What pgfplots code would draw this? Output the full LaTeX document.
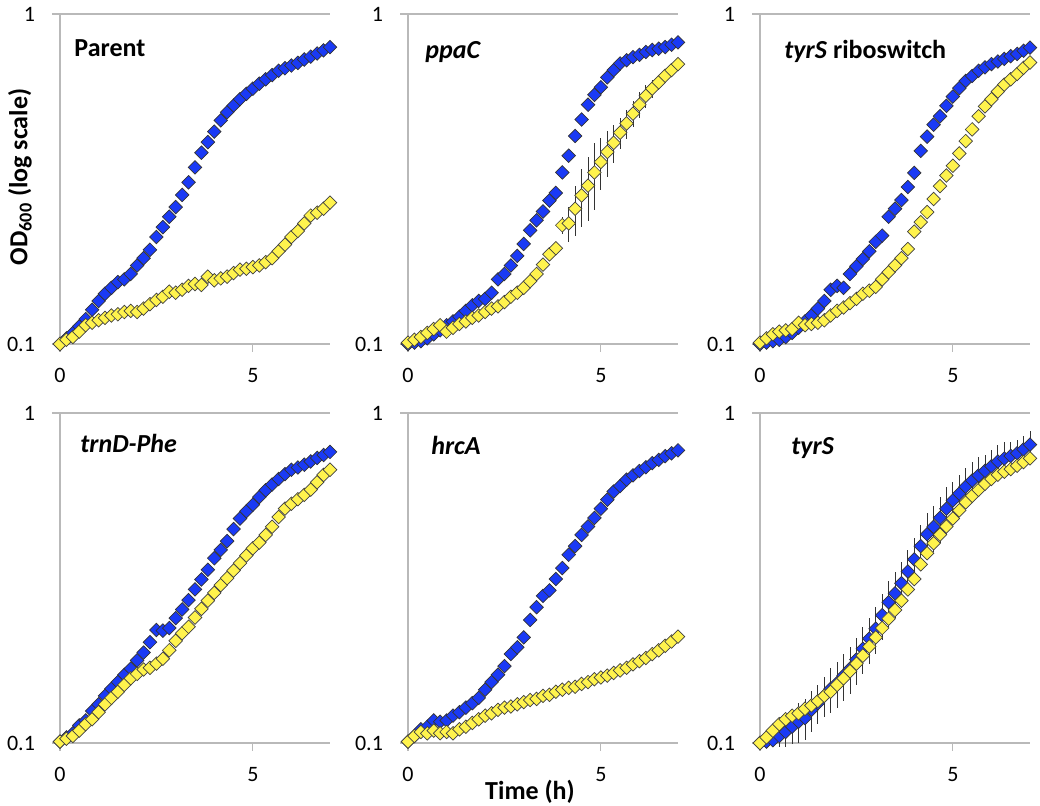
\documentclass[border=0pt]{standalone}
\usepackage{pgfplots}
\pgfplotsset{compat=1.18}
\usepackage{pgfplotstable}
\usepackage{fontspec}
\setmainfont{Carlito}
\definecolor{mblue}{RGB}{26,58,245}
\definecolor{myel}{RGB}{255,243,77}
\definecolor{axgray}{RGB}{185,185,185}

% t = time (h), b = blue series, y = yellow series, e = error
\pgfplotstableread{
t b y
0 0.100 0.100
0.167 0.104 0.103
0.333 0.108 0.105
0.5 0.113 0.109
0.667 0.119 0.114
0.833 0.127 0.116
1 0.135 0.118
1.167 0.142 0.120
1.333 0.148 0.122
1.5 0.154 0.123
1.667 0.157 0.125
1.833 0.163 0.126
2 0.173 0.125
2.167 0.182 0.128
2.333 0.193 0.132
2.5 0.211 0.136
2.667 0.226 0.139
2.833 0.243 0.144
3 0.260 0.143
3.167 0.283 0.146
3.333 0.309 0.150
3.5 0.343 0.152
3.667 0.380 0.151
3.833 0.409 0.160
4 0.440 0.156
4.167 0.476 0.158
4.333 0.504 0.160
4.5 0.528 0.164
4.667 0.552 0.168
4.833 0.573 0.169
5 0.594 0.171
5.167 0.615 0.173
5.333 0.634 0.177
5.5 0.653 0.182
5.667 0.673 0.191
5.833 0.685 0.200
6 0.698 0.211
6.167 0.711 0.220
6.333 0.728 0.232
6.5 0.743 0.245
6.667 0.759 0.250
6.833 0.776 0.257
7 0.794 0.268
}\tabA

\pgfplotstableread{
t b y e
0 0.100 0.101 0
0.167 0.101 0.103 0
0.333 0.102 0.105 0
0.5 0.104 0.108 0
0.667 0.107 0.111 0
0.833 0.110 0.114 0
1 0.114 0.109 0
1.167 0.117 0.112 0
1.333 0.121 0.115 0
1.5 0.126 0.117 0
1.667 0.131 0.120 0
1.833 0.135 0.122 0
2 0.137 0.125 0
2.167 0.143 0.128 0
2.333 0.157 0.130 0
2.5 0.163 0.134 0
2.667 0.173 0.139 0
2.833 0.185 0.143 0
3 0.201 0.148 0
3.167 0.221 0.155 0
3.333 0.237 0.163 0
3.5 0.252 0.174 0
3.667 0.272 0.187 0
3.833 0.287 0.195 0.006
4 0.331 0.229 0.014
4.167 0.372 0.232 0.028
4.333 0.427 0.257 0.044
4.5 0.479 0.282 0.056
4.667 0.531 0.302 0.066
4.833 0.569 0.331 0.076
5 0.600 0.356 0.064
5.167 0.643 0.382 0.061
5.333 0.676 0.407 0.053
5.5 0.708 0.437 0.048
5.667 0.724 0.466 0.047
5.833 0.740 0.499 0.045
6 0.752 0.531 0.048
6.167 0.767 0.565 0.045
6.333 0.778 0.594 0.036
6.5 0.785 0.621 0.031
6.667 0.794 0.650 0.026
6.833 0.807 0.676 0.027
7 0.820 0.705 0.021
}\tabB

\pgfplotstableread{
t b y
0 0.100 0.101
0.167 0.101 0.104
0.333 0.102 0.107
0.5 0.103 0.109
0.667 0.105 0.110
0.833 0.108 0.111
1 0.112 0.116
1.167 0.117 0.114
1.333 0.122 0.115
1.5 0.128 0.116
1.667 0.135 0.118
1.833 0.146 0.122
2 0.150 0.126
2.167 0.148 0.129
2.333 0.163 0.133
2.5 0.172 0.137
2.667 0.181 0.142
2.833 0.191 0.145
3 0.204 0.149
3.167 0.213 0.157
3.333 0.243 0.165
3.5 0.257 0.173
3.667 0.273 0.182
3.833 0.299 0.194
4 0.330 0.219
4.167 0.385 0.234
4.333 0.425 0.251
4.5 0.462 0.275
4.667 0.490 0.301
4.833 0.527 0.324
5 0.562 0.347
5.167 0.596 0.378
5.333 0.627 0.412
5.5 0.649 0.447
5.667 0.673 0.490
5.833 0.689 0.525
6 0.705 0.552
6.167 0.718 0.582
6.333 0.731 0.611
6.5 0.745 0.634
6.667 0.757 0.658
6.833 0.774 0.687
7 0.791 0.713
}\tabC

\pgfplotstableread{
t b y
0 0.101 0.101
0.167 0.104 0.103
0.333 0.107 0.105
0.5 0.113 0.109
0.667 0.117 0.114
0.833 0.125 0.118
1 0.131 0.124
1.167 0.139 0.131
1.333 0.146 0.137
1.5 0.153 0.143
1.667 0.161 0.150
1.833 0.168 0.157
2 0.178 0.162
2.167 0.188 0.167
2.333 0.202 0.169
2.5 0.220 0.174
2.667 0.219 0.180
2.833 0.223 0.191
3 0.239 0.204
3.167 0.254 0.215
3.333 0.271 0.225
3.5 0.292 0.240
3.667 0.313 0.255
3.833 0.335 0.270
4 0.363 0.285
4.167 0.385 0.301
4.333 0.409 0.316
4.5 0.445 0.333
4.667 0.479 0.351
4.833 0.504 0.370
5 0.527 0.389
5.167 0.556 0.405
5.333 0.583 0.427
5.5 0.607 0.452
5.667 0.631 0.484
5.833 0.653 0.513
6 0.673 0.531
6.167 0.684 0.548
6.333 0.697 0.565
6.5 0.713 0.586
6.667 0.731 0.617
6.833 0.746 0.649
7 0.762 0.673
}\tabD

\pgfplotstableread{
t b y
0 0.101 0.101
0.167 0.105 0.105
0.333 0.110 0.108
0.5 0.112 0.107
0.667 0.117 0.109
0.833 0.116 0.107
1 0.117 0.108
1.167 0.121 0.107
1.333 0.124 0.110
1.5 0.128 0.112
1.667 0.132 0.115
1.833 0.137 0.118
2 0.145 0.121
2.167 0.153 0.123
2.333 0.161 0.126
2.5 0.171 0.128
2.667 0.186 0.129
2.833 0.195 0.131
3 0.209 0.133
3.167 0.236 0.135
3.333 0.258 0.136
3.5 0.279 0.139
3.667 0.290 0.140
3.833 0.314 0.143
4 0.339 0.145
4.167 0.372 0.147
4.333 0.395 0.148
4.5 0.427 0.151
4.667 0.453 0.153
4.833 0.481 0.156
5 0.513 0.158
5.167 0.546 0.160
5.333 0.578 0.163
5.5 0.601 0.166
5.667 0.628 0.169
5.833 0.647 0.173
6 0.667 0.177
6.167 0.685 0.181
6.333 0.705 0.186
6.5 0.721 0.191
6.667 0.740 0.197
6.833 0.755 0.203
7 0.771 0.210
}\tabE

\pgfplotstableread{
t b y e
0 0.100 0.100 0
0.167 0.101 0.104 0.002
0.333 0.102 0.109 0.005
0.5 0.105 0.114 0.008
0.667 0.108 0.118 0.011
0.833 0.112 0.121 0.013
1 0.116 0.123 0.016
1.167 0.119 0.127 0.017
1.333 0.126 0.130 0.018
1.5 0.132 0.134 0.018
1.667 0.139 0.139 0.019
1.833 0.146 0.143 0.023
2 0.152 0.150 0.024
2.167 0.160 0.157 0.026
2.333 0.168 0.165 0.027
2.5 0.179 0.174 0.029
2.667 0.193 0.184 0.031
2.833 0.207 0.196 0.033
3 0.222 0.209 0.036
3.167 0.244 0.223 0.039
3.333 0.267 0.238 0.043
3.5 0.284 0.253 0.045
3.667 0.305 0.270 0.049
3.833 0.331 0.292 0.053
4 0.360 0.314 0.058
4.167 0.395 0.348 0.063
4.333 0.429 0.376 0.069
4.5 0.452 0.403 0.072
4.667 0.481 0.428 0.077
4.833 0.513 0.453 0.082
5 0.543 0.479 0.076
5.167 0.570 0.507 0.080
5.333 0.598 0.536 0.084
5.5 0.624 0.561 0.087
5.667 0.647 0.585 0.091
5.833 0.668 0.610 0.080
6 0.690 0.631 0.083
6.167 0.713 0.650 0.086
6.333 0.728 0.664 0.087
6.5 0.741 0.676 0.074
6.667 0.755 0.692 0.076
6.833 0.776 0.710 0.078
7 0.802 0.729 0.080
}\tabF

\pgfplotsset{
  odpanel/.style={
    scale only axis, width=135pt, height=165pt,
    anchor=south west,
    xmin=0, xmax=7, ymin=0.1, ymax=1,
    axis x line*=bottom, axis y line*=left,
    axis line style={draw=axgray, line width=0.6pt},
    xtick={0,5}, xticklabels={0,5},
    ytick={0.1,1}, yticklabels={0.1,1},
    yminorticks=false, xminorticks=false,
    ymajorgrids, grid style={draw=axgray, line width=0.6pt},
    tick align=outside, major tick length=4pt,
    tick style={draw=axgray, line width=0.6pt},
    ticklabel style={font=\fontsize{11}{12}\selectfont},
    xticklabel shift=4.5pt, yticklabel shift=5pt,
    clip=false,
  },
  odblue/.style={only marks, mark=square*, mark size=2.4pt,
    mark options={rotate=45, fill=mblue, draw=black!80, line width=0.35pt}},
  odyel/.style={only marks, mark=square*, mark size=2.4pt,
    mark options={rotate=45, fill=myel, draw=black!75, line width=0.35pt}},
}
\tikzset{odttl/.style={anchor=base west, inner sep=0pt, font=\bfseries\fontsize{13}{15}\selectfont}}

\begin{document}
\begin{tikzpicture}
\useasboundingbox (0,0) rectangle (520pt,403pt);

\begin{semilogyaxis}[odpanel, at={(30pt,231pt)}]
  \addplot[odblue] table[x=t,y=b] {\tabA};
  \addplot[odyel] table[x=t,y=y] {\tabA};
  \node[odttl] at (rel axis cs:0.052,0.87) {Parent};
\end{semilogyaxis}

\begin{semilogyaxis}[odpanel, at={(204pt,231pt)}]
  \addplot[odblue] table[x=t,y=b] {\tabB};
  \addplot[odyel, error bars/.cd, y dir=both, y explicit, error mark=none,
    error bar style={line width=0.45pt, black!80}] table[x=t,y=y,y error=e] {\tabB};
  \node[odttl] at (rel axis cs:0.063,0.864) {\textit{ppaC}};
\end{semilogyaxis}

\begin{semilogyaxis}[odpanel, at={(380pt,231pt)}]
  \addplot[odblue] table[x=t,y=b] {\tabC};
  \addplot[odyel] table[x=t,y=y] {\tabC};
  \node[odttl] at (rel axis cs:0.089,0.864) {\textit{tyrS} riboswitch};
\end{semilogyaxis}

\begin{semilogyaxis}[odpanel, at={(30pt,31.5pt)}]
  \addplot[odblue] table[x=t,y=b] {\tabD};
  \addplot[odyel] table[x=t,y=y] {\tabD};
  \node[odttl] at (rel axis cs:0.074,0.879) {\textit{trnD-Phe}};
\end{semilogyaxis}

\begin{semilogyaxis}[odpanel, at={(204pt,31.5pt)}]
  \addplot[odblue] table[x=t,y=b] {\tabE};
  \addplot[odyel] table[x=t,y=y] {\tabE};
  \node[odttl] at (rel axis cs:0.085,0.873) {\textit{hrcA}};
\end{semilogyaxis}

\begin{semilogyaxis}[odpanel, at={(380pt,31.5pt)}]
  \addplot[odblue, error bars/.cd, y dir=both, y explicit, error mark=none,
    error bar style={line width=0.45pt, black!80}] table[x=t,y=b,y error=e] {\tabF};
  \addplot[odyel] table[x=t,y=y] {\tabF};
  \node[odttl] at (rel axis cs:0.115,0.873) {\textit{tyrS}};
\end{semilogyaxis}

\node[rotate=90, font=\bfseries\fontsize{13}{15}\selectfont] at (10pt,314.5pt) {OD\textsubscript{600} (log scale)};
\node[font=\bfseries\fontsize{13}{15}\selectfont] at (265pt,7pt) {Time (h)};
\end{tikzpicture}
\end{document}
